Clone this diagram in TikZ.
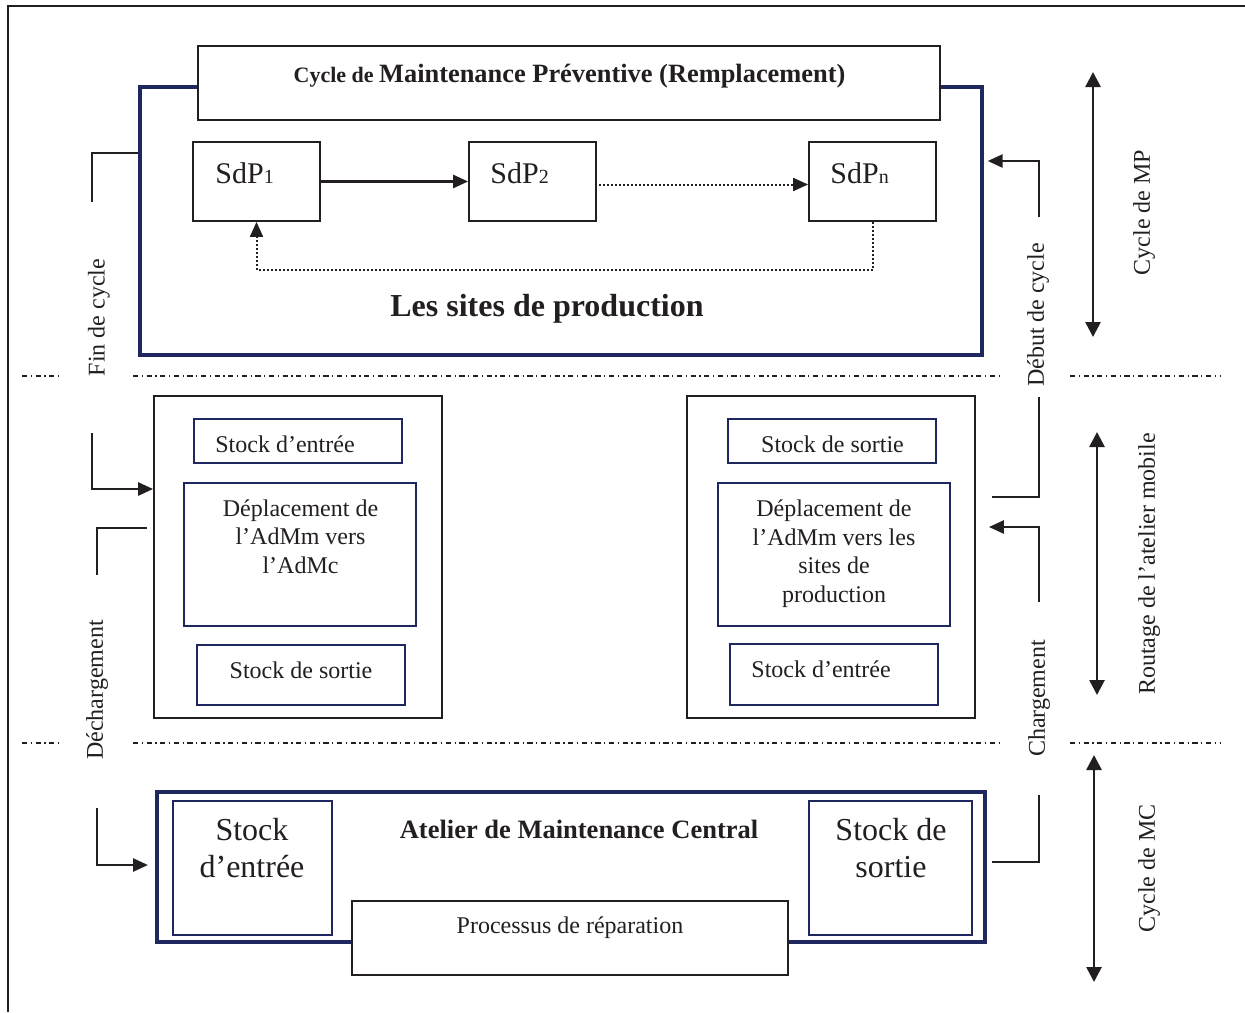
\documentclass[tikz,border=0pt]{standalone}
\usepackage{fontspec}
\setmainfont{Liberation Serif}
\usetikzlibrary{arrows.meta}
\definecolor{navy}{RGB}{30,40,95}
\definecolor{ink}{RGB}{35,31,32}
\newcommand\sdpsub[1]{{\fontsize{10}{10}\selectfont #1}}
\begin{document}
\begin{tikzpicture}[x=0.5pt,y=-0.5pt,
 box/.style={draw=ink,line width=0.9pt,fill=white,inner sep=0pt},
 nbox/.style={draw=navy,line width=1pt,fill=white,inner sep=0pt},
 conn/.style={draw=ink,line width=1.3pt},
 tip/.style={-{Triangle[length=7.5pt,width=6.5pt]}},
 dbl/.style={{Triangle[length=7.5pt,width=7.5pt]}-{Triangle[length=7.5pt,width=7.5pt]},line width=1.3pt,draw=ink},
 sep/.style={line width=0.6pt,draw=ink,dash pattern=on 2.6pt off 1.8pt on 0.6pt off 1.8pt},
 dots/.style={draw=ink,line width=1pt,dash pattern=on 1pt off 1pt},
 txt/.style={font=\fontsize{12}{14.2}\selectfont,text=ink,inner sep=0pt,align=center},
 bigt/.style={font=\fontsize{16}{18.5}\selectfont,text=ink,inner sep=0pt,align=center},
 sdpt/.style={font=\fontsize{15}{18}\selectfont,text=ink,inner sep=0pt},
 vlab/.style={txt,rotate=90}]
\useasboundingbox (0,0) rectangle (1245,1012);
\draw[ink,line width=1pt] (8,1012) -- (8,6) -- (1245,6);

% ---- top: production sites
\node[draw=navy,line width=1.7pt,minimum width=421pt,minimum height=134pt,inner sep=0pt] (sites) at (561,221) {};
\node[box,minimum width=371pt,minimum height=37pt] (title) at (569,83) {};
\node[txt,anchor=base] (titletxt) at (569.5,82) {\bfseries\fontsize{11}{13}\selectfont Cycle de \fontsize{13.2}{15}\selectfont Maintenance Préventive (Remplacement)};

\node[box,minimum width=63.5pt,minimum height=39.5pt] (sdp1) at (256.5,181.5) {};
\node[box,minimum width=63.5pt,minimum height=39.5pt] (sdp2) at (532.5,181.5) {};
\node[box,minimum width=63.5pt,minimum height=39.5pt] (sdpn) at (872.5,181.5) {};
\node[sdpt,anchor=base west] (sdp1t) at (215,183) {SdP\sdpsub{1}};
\node[sdpt,anchor=base west] (sdp2t) at (490,183) {SdP\sdpsub{2}};
\node[sdpt,anchor=base west] (sdpnt) at (830,183) {SdP\sdpsub{n}};

\draw[conn,tip] (sdp1.east) -- (sdp2.west);
\draw[dots,tip] ([xshift=1pt,yshift=-1.5pt]sdp2.east) -- ([yshift=-1.5pt]sdpn.west);
\draw[dots,tip] (sdpn.south) -- ++(0,48) -| (sdp1.south);

\node[txt,font=\bfseries\fontsize{16}{18}\selectfont,anchor=base] (lesites) at (547,316) {Les sites de production};

% ---- middle
\node[box,minimum width=144pt,minimum height=161pt] (mleft) at (298,557) {};
\node[nbox,minimum width=104pt,minimum height=22pt] (mlin) at (298,441) {};
\node[txt,anchor=base west] (mlint) at (215,452) {Stock d’entrée};
\node[nbox,minimum width=116pt,minimum height=71.5pt] (mldep) at (300,554.5) {};
\node[txt,anchor=base] (mldept) at (300.5,573) {Déplacement de\\l’AdMm vers\\l’AdMc};
\node[nbox,minimum width=104pt,minimum height=30pt] (mlout) at (301,675) {};
\node[txt,anchor=base] (mloutt) at (301,678) {Stock de sortie};

\node[box,minimum width=144pt,minimum height=161pt] (mright) at (831,557) {};
\node[nbox,minimum width=104pt,minimum height=22pt] (mrout) at (832,441) {};
\node[txt,anchor=base] (mroutt) at (832.5,452) {Stock de sortie};
\node[nbox,minimum width=116pt,minimum height=71.5pt] (mrdep) at (834,554.5) {};
\node[txt,anchor=base] (mrdept) at (834,602) {Déplacement de\\l’AdMm vers les\\sites de\\production};
\node[nbox,minimum width=104pt,minimum height=30.5pt] (mrin) at (834,674.5) {};
\node[txt,anchor=base west] (mrint) at (751,677) {Stock d’entrée};

% ---- bottom: central workshop
\node[draw=navy,line width=2pt,minimum width=414pt,minimum height=75pt,inner sep=0pt] (admc) at (571,867) {};
\node[nbox,minimum width=79.5pt,minimum height=67pt] (acin) at (252.5,868) {};
\node[bigt,anchor=base] (acint) at (252,877) {Stock\\d’entrée};
\node[nbox,minimum width=81.5pt,minimum height=67pt] (acout) at (890.5,868) {};
\node[bigt,anchor=base] (acoutt) at (891,877) {Stock de\\sortie};
\node[txt,font=\bfseries\fontsize{13.25}{15}\selectfont,anchor=base] (admct) at (579,838) {Atelier de Maintenance Central};
\node[box,minimum width=218pt,minimum height=37pt] (proc) at (570,938) {};
\node[txt,anchor=base] (proct) at (570,933) {Processus de réparation};

% ---- separators
\foreach \yy in {376,743}{
  \draw[sep] (22,\yy) -- (62,\yy);
  \draw[sep] (133,\yy) -- (999,\yy);
  \draw[sep] (1070,\yy) -- (1220,\yy);
}

% ---- side labels
\node[vlab] (lfin) at (99,317.5) {Fin de cycle};
\node[vlab] (ldech) at (97,690) {Déchargement};
\node[vlab] (ldeb) at (1038,315) {Début de cycle};
\node[vlab] (lchar) at (1039,698.5) {Chargement};
\node[vlab] (lmp) at (1144,212.5) {Cycle de MP};
\node[vlab] (lrout) at (1149,564) {Routage de l’atelier mobile};
\node[vlab] (lmc) at (1149,868.5) {Cycle de MC};

% ---- connectors
\coordinate (finA) at (92,202); \coordinate (finAy) at (0,153);
\draw[conn] (sites.west |- finAy) -| (finA);
\coordinate (finB) at (92,433); \coordinate (finBy) at (0,489);
\draw[conn,tip] (finB) |- (mleft.west |- finBy);
\coordinate (dchA) at (147,528); \coordinate (dchB) at (97,575);
\draw[conn] (dchA) -| (dchB);
\coordinate (dchC) at (97,808); \coordinate (dchCy) at (0,865);
\draw[conn,tip] (dchC) |- ([xshift=-3.5pt]admc.west |- dchCy);
\coordinate (chA) at (1039,795); \coordinate (chAy) at (0,862);
\draw[conn] ([xshift=2.5pt]admc.east |- chAy) -| (chA);
\coordinate (chB) at (1039,602); \coordinate (chBy) at (0,527);
\draw[conn,tip] (chB) |- ([xshift=6.5pt]mright.east |- chBy);
\coordinate (debA) at (1039,397); \coordinate (debAy) at (0,497);
\draw[conn] ([xshift=8pt]mright.east |- debAy) -| (debA);
\coordinate (debB) at (1039,217); \coordinate (debBy) at (0,161);
\draw[conn,tip] (debB) |- ([xshift=2pt]sites.east |- debBy);

% ---- cycle extents
\coordinate (mpT) at (1093,72); \coordinate (mpB) at (1093,337);
\draw[dbl] (mpT) -- (mpB);
\coordinate (rtT) at (1097,432); \coordinate (rtB) at (1097,695);
\draw[dbl] (rtT) -- (rtB);
\coordinate (mcT) at (1094,755); \coordinate (mcB) at (1094,982);
\draw[dbl] (mcT) -- (mcB);
\end{tikzpicture}
\end{document}
